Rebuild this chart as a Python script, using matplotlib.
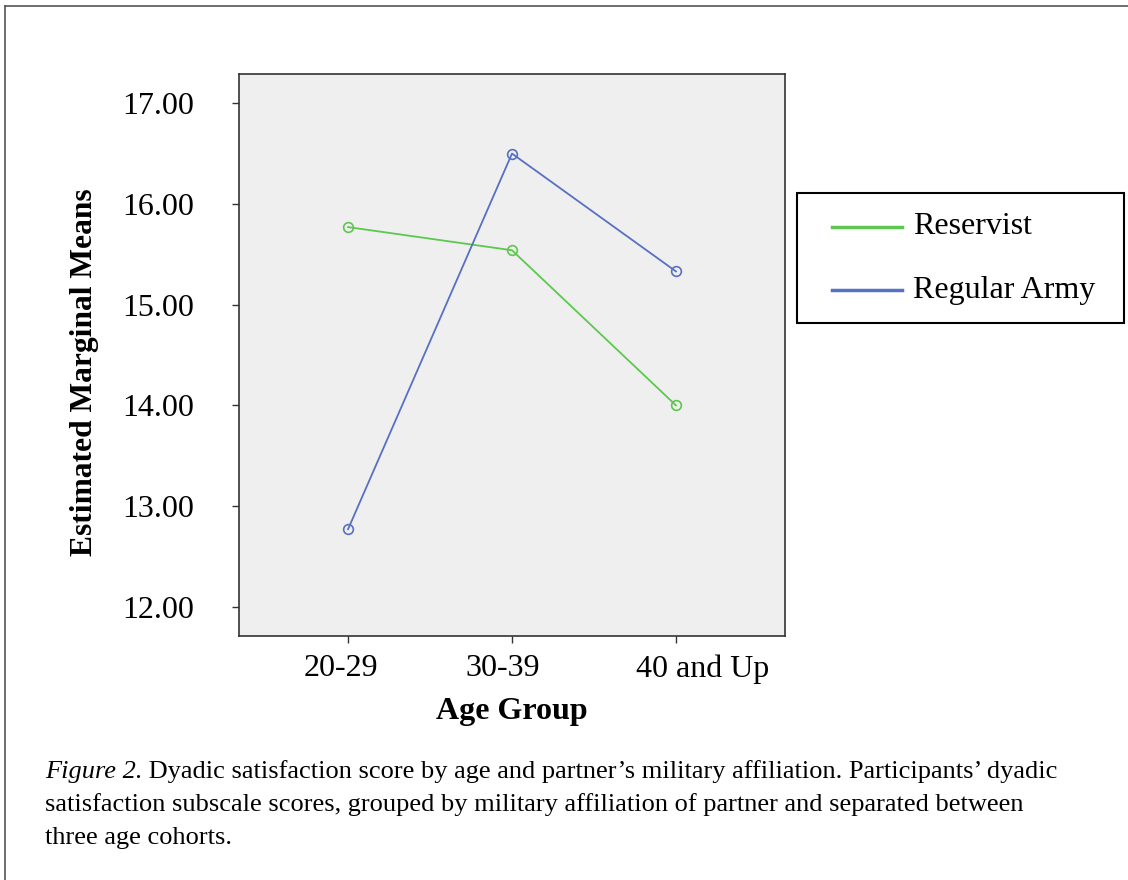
import matplotlib.pyplot as plt
import numpy as np
from matplotlib.lines import Line2D
from matplotlib.patches import Rectangle
from matplotlib.transforms import ScaledTranslation

plt.rcParams['font.family'] = ['Liberation Serif', 'DejaVu Serif']

age_groups = ['20-29', '30-39', '40 and Up']
reservist = [15.77, 15.54, 14.00]
regular_army = [12.77, 16.50, 15.33]
y_ticks = [12.0, 13.0, 14.0, 15.0, 16.0, 17.0]
series_names = ['Reservist', 'Regular Army']

green = '#5cc84e'
blue = '#5870c4'

fig = plt.figure(figsize=(11.28, 8.8), dpi=100)
W, H = 1128, 880
fx = lambda px: px / W
fy = lambda py: 1 - py / H

# outer frame (only left and top edges visible)
fig.add_artist(Line2D([fx(5), fx(5)], [0, fy(6)], transform=fig.transFigure, color='#555555', lw=1.2))
fig.add_artist(Line2D([fx(5), 1], [fy(6), fy(6)], transform=fig.transFigure, color='#555555', lw=1.2))

ax = fig.add_axes([fx(239), fy(636), (785 - 239) / W, (636 - 74) / H])
ax.set_facecolor('#efefef')
x = np.arange(len(age_groups))
ax.plot(x, reservist, color=green, lw=1.3, marker='o', ms=7, mfc='none', mec=green, mew=1.2)
ax.plot(x, regular_army, color=blue, lw=1.3, marker='o', ms=7, mfc='none', mec=blue, mew=1.2)

ax.set_xlim(-0.665, 2.665)
ax.set_ylim(11.71, 17.29)
ax.set_xticks(x)
ax.set_xticklabels(age_groups, fontsize=23)
ax.set_yticks(y_ticks)
ax.set_yticklabels([f'{v:.2f}' for v in y_ticks], fontsize=23)
ax.tick_params(length=5, width=1, color='#333333')
ax.tick_params(axis='x', pad=8)
ax.tick_params(axis='y', pad=27)
# SPSS places the category labels slightly off-centre
for lab, dx in zip(ax.get_xticklabels(), [-7, -9, 27]):
    lab.set_transform(lab.get_transform() + ScaledTranslation(dx / 100, 0, fig.dpi_scale_trans))
for s in ax.spines.values():
    s.set_color('#333333')
    s.set_linewidth(1.2)
ax.set_xlabel('Age Group', fontsize=23, fontweight='bold', labelpad=10)
ax.set_ylabel('Estimated Marginal Means', fontsize=22.7, fontweight='bold')
ax.yaxis.set_label_coords(-0.256, 0.47)

# legend box drawn by hand to match the SPSS layout
fig.add_artist(Rectangle((fx(797), fy(323)), (1124 - 797) / W, (323 - 193) / H,
                         transform=fig.transFigure, fill=False, ec='black', lw=1.5))
for name, col, yy in zip(series_names, [green, blue], [227, 290]):
    fig.add_artist(Line2D([fx(832), fx(902)], [fy(yy), fy(yy)], transform=fig.transFigure, color=col, lw=2.5))
    fig.text(fx(913), fy(yy), name, fontsize=23, va='center', ha='left')

# caption
cap_fs = 19
fig_lbl = fig.text(fx(45), fy(772), 'Figure 2.', fontsize=cap_fs, style='italic', va='center')
ax.annotate(' Dyadic satisfaction score by age and partner\u2019s military affiliation. Participants\u2019 dyadic',
            xy=(1, 0.5), xycoords=fig_lbl, va='center', ha='left', fontsize=cap_fs,
            annotation_clip=False)
fig.text(fx(45), fy(805),
         'satisfaction subscale scores, grouped by military affiliation of partner and separated between',
         fontsize=cap_fs, va='center')
fig.text(fx(45), fy(838), 'three age cohorts.', fontsize=cap_fs, va='center')

fig.savefig('out.png', dpi=100, facecolor='white')
